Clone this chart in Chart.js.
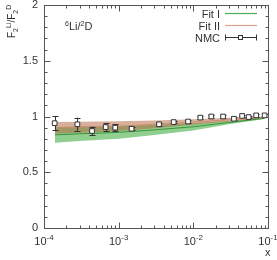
<!DOCTYPE html>
<html>
<head>
<meta charset="utf-8">
<script src="https://cdn.jsdelivr.net/npm/chart.js@4/dist/chart.umd.min.js"></script>
<style>
  html, body { margin: 0; padding: 0; background: #fff; }
  #wrap { width: 277px; height: 260px; }
</style>
</head>
<body>
<div id="wrap"><canvas id="chart" width="277" height="260"></canvas></div>
<script>
// band x grid and fit bands
var xBand = [1.4e-4, 3e-4, 1e-3, 3e-3, 1e-2, 3e-2, 9e-2];
var fit1Upper = [0.905, 0.91, 0.915, 0.925, 0.94, 0.962, 0.99];
var fit1Lower = [0.765, 0.78, 0.80, 0.835, 0.875, 0.93, 0.978];
var fit1Mid = [0.835, 0.845, 0.858, 0.88, 0.908, 0.946, 0.984];
var fit2Upper = [0.95, 0.952, 0.957, 0.965, 0.975, 0.988, 1.0];
var fit2Lower = [0.845, 0.855, 0.87, 0.895, 0.925, 0.955, 0.985];
var fit2Mid = [0.897, 0.903, 0.913, 0.93, 0.95, 0.971, 0.992];

// NMC data
var nmcX = [1.39e-4, 2.8e-4, 4.4e-4, 6.7e-4, 9.0e-4, 1.49e-3, 3.47e-3, 5.45e-3, 8.5e-3,
  1.24e-2, 1.74e-2, 2.5e-2, 3.5e-2, 4.5e-2, 5.5e-2, 6.95e-2, 9.0e-2];
var nmcY = [0.94, 0.93, 0.87, 0.905, 0.90, 0.89, 0.93, 0.95, 0.955,
  0.99, 1.0, 1.0, 0.98, 1.005, 0.995, 1.01, 1.01];
var nmcErr = [0.065, 0.06, 0.04, 0.035, 0.03, 0.015, 0.012, 0.012, 0.012,
  0.012, 0.012, 0.012, 0.012, 0.012, 0.012, 0.012, 0.012];

var yTicks = [0, 0.5, 1, 1.5, 2];
var yTickLabels = ['0', '0.5', '1', '1.5', '2'];
var xTicks = [1e-4, 1e-3, 1e-2, 1e-1];
var xTickExp = ['-4', '-3', '-2', '-1'];

var FONT = '"Liberation Sans", Arial, sans-serif';
var AXIS = '#555';
var TEXT = '#333';
var GREEN = 'rgb(80,170,80)';
var BROWN = 'rgb(215,160,135)';

function pts(xs, ys) {
  return xs.map(function (x, i) { return { x: x, y: ys[i] }; });
}

// draws text parts in a row: [text, size, dy]
function richText(ctx, parts, x, y, align) {
  var total = 0;
  parts.forEach(function (p) {
    ctx.font = p[1] + 'px ' + FONT;
    total += ctx.measureText(p[0]).width;
  });
  var cx = align === 'right' ? x - total : (align === 'center' ? x - total / 2 : x);
  ctx.textAlign = 'left';
  parts.forEach(function (p) {
    ctx.font = p[1] + 'px ' + FONT;
    ctx.fillText(p[0], cx, y + (p[2] || 0));
    cx += ctx.measureText(p[0]).width;
  });
}

var decorPlugin = {
  id: 'decor',
  beforeDatasetDraw: function (chart, args) {
    if (args.index !== 6) return;
    var ctx = chart.ctx;
    var xs = chart.scales.x, ys = chart.scales.y;
    ctx.save();
    ctx.strokeStyle = TEXT;
    ctx.lineWidth = 1;
    nmcX.forEach(function (v, i) {
      var px = Math.round(xs.getPixelForValue(v)) + 0.5;
      var top = ys.getPixelForValue(nmcY[i] + nmcErr[i]);
      var bot = ys.getPixelForValue(nmcY[i] - nmcErr[i]);
      ctx.beginPath();
      ctx.moveTo(px, top); ctx.lineTo(px, bot);
      ctx.moveTo(px - 3, Math.round(top) + 0.5); ctx.lineTo(px + 3, Math.round(top) + 0.5);
      ctx.moveTo(px - 3, Math.round(bot) + 0.5); ctx.lineTo(px + 3, Math.round(bot) + 0.5);
      ctx.stroke();
    });
    ctx.restore();
  },
  afterDraw: function (chart) {
    var ctx = chart.ctx;
    var a = chart.chartArea;
    var xs = chart.scales.x, ys = chart.scales.y;
    ctx.save();
    ctx.strokeStyle = AXIS;
    ctx.lineWidth = 1;
    var L = Math.round(a.left) + 0.5, R = Math.round(a.right) + 0.5;
    var T = Math.round(a.top) + 0.5, B = Math.round(a.bottom) + 0.5;
    ctx.strokeRect(L, T, R - L, B - T);

    // y ticks
    ctx.beginPath();
    for (var k = 0; k <= 20; k++) {
      var py = Math.round(ys.getPixelForValue(k / 10)) + 0.5;
      var len = k % 5 === 0 ? 6 : 3;
      ctx.moveTo(L, py); ctx.lineTo(L + len, py);
      ctx.moveTo(R, py); ctx.lineTo(R - len, py);
    }
    // x ticks
    for (var d = -4; d <= -1; d++) {
      for (var m = 1; m <= 9; m++) {
        var v = m * Math.pow(10, d);
        if (v > 0.1000001) break;
        var px = Math.round(xs.getPixelForValue(v)) + 0.5;
        var l2 = m === 1 ? 6 : 3;
        ctx.moveTo(px, B); ctx.lineTo(px, B - l2);
        ctx.moveTo(px, T); ctx.lineTo(px, T + l2);
      }
    }
    ctx.stroke();

    ctx.fillStyle = TEXT;
    ctx.textBaseline = 'middle';
    // y labels
    yTicks.forEach(function (v, i) {
      ctx.font = '11px ' + FONT;
      ctx.textAlign = 'right';
      ctx.fillText(yTickLabels[i], a.left - 6, ys.getPixelForValue(v));
    });
    // x labels
    ctx.textBaseline = 'alphabetic';
    xTicks.forEach(function (v, i) {
      var px = xs.getPixelForValue(v);
      richText(ctx, [['10', 11, 0], [xTickExp[i], 8, -5]], px, a.bottom + 17, 'center');
    });
    // x title
    richText(ctx, [['x', 11, 0]], a.right - 3, 256, 'left');

    // y title, rotated
    ctx.save();
    ctx.translate(15, 38);
    ctx.rotate(-Math.PI / 2);
    richText(ctx, [['F', 10, 0], ['2', 7, 3], ['Li', 7, -4], ['/F', 10, 0], ['2', 7, 3], ['D', 7, -4]], 0, 0, 'left');
    ctx.restore();

    // annotation
    richText(ctx, [['6', 7, -4], ['Li/', 11, 0], ['2', 7, -4], ['D', 11, 0]], 65, 30, 'left');

    // legend
    var lx0 = 225, lx1 = 257, tx = 220;
    var rows = [['Fit I', 14], ['Fit II', 26], ['NMC', 38]];
    rows.forEach(function (r) {
      richText(ctx, [[r[0], 11, 0]], tx, r[1] + 4, 'right');
    });
    ctx.lineWidth = 1.2;
    ctx.strokeStyle = GREEN;
    ctx.beginPath(); ctx.moveTo(lx0, 13.5); ctx.lineTo(lx1, 13.5); ctx.stroke();
    ctx.strokeStyle = BROWN;
    ctx.beginPath(); ctx.moveTo(lx0, 25.5); ctx.lineTo(lx1, 25.5); ctx.stroke();
    ctx.lineWidth = 1;
    ctx.strokeStyle = TEXT;
    ctx.beginPath();
    ctx.moveTo(lx0, 37.5); ctx.lineTo(lx1, 37.5);
    ctx.moveTo(lx0 + 0.5, 34.5); ctx.lineTo(lx0 + 0.5, 40.5);
    ctx.moveTo(lx1 - 0.5, 34.5); ctx.lineTo(lx1 - 0.5, 40.5);
    ctx.stroke();
    ctx.fillStyle = '#fff';
    ctx.fillRect(238.5, 35.5, 4, 4);
    ctx.strokeRect(238.5, 35.5, 4, 4);
    ctx.restore();
  }
};

new Chart(document.getElementById('chart'), {
  type: 'line',
  data: {
    datasets: [
      { data: pts(xBand, fit2Upper), fill: '+1', backgroundColor: 'rgba(175,95,55,0.5)',
        borderWidth: 0, pointRadius: 0, order: 2 },
      { data: pts(xBand, fit2Lower), fill: false, borderWidth: 0, pointRadius: 0, order: 2 },
      { data: pts(xBand, fit1Upper), fill: '+1', backgroundColor: 'rgba(70,175,70,0.6)',
        borderWidth: 0, pointRadius: 0, order: 3 },
      { data: pts(xBand, fit1Lower), fill: false, borderWidth: 0, pointRadius: 0, order: 3 },
      { data: pts(xBand, fit2Mid), fill: false, borderColor: 'rgba(200,140,110,0.9)',
        borderWidth: 1, pointRadius: 0, order: 1 },
      { data: pts(xBand, fit1Mid), fill: false, borderColor: 'rgba(50,140,50,0.9)',
        borderWidth: 1, pointRadius: 0, order: 1 },
      { data: pts(nmcX, nmcY), showLine: false, pointStyle: 'rect', pointRadius: 3.3,
        pointBackgroundColor: '#fff', pointBorderColor: TEXT, pointBorderWidth: 1, order: 0 }
    ]
  },
  options: {
    responsive: false,
    animation: false,
    events: [],
    layout: { padding: { left: 44, right: 9, top: 4, bottom: 32 } },
    plugins: { legend: { display: false }, tooltip: { enabled: false } },
    scales: {
      x: { type: 'logarithmic', min: 1e-4, max: 1e-1, display: false },
      y: { type: 'linear', min: 0, max: 2, display: false }
    }
  },
  plugins: [decorPlugin]
});
</script>
</body>
</html>
